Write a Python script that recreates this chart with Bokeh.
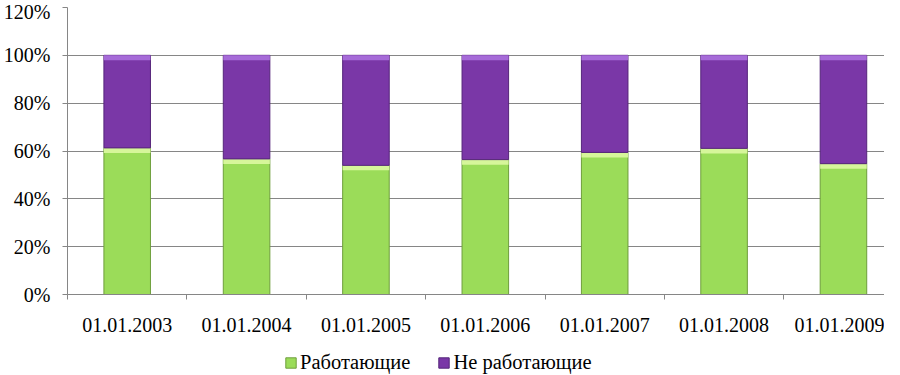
from bokeh.plotting import figure
from bokeh.layouts import column
from bokeh.models import Range1d, FixedTicker, Legend, LegendItem, ColumnDataSource
from bokeh.embed import file_html
from bokeh.resources import INLINE

categories = ["01.01.2003", "01.01.2004", "01.01.2005", "01.01.2006",
              "01.01.2007", "01.01.2008", "01.01.2009"]
working = [61.3, 56.7, 54.0, 56.4, 59.4, 61.1, 54.7]
not_working = [38.7, 43.3, 46.0, 43.6, 40.6, 38.9, 45.3]
series_names = ["Работающие", "Не работающие"]
y_ticks = [0, 20, 40, 60, 80, 100, 120]
y_tick_labels = ["0%", "20%", "40%", "60%", "80%", "100%", "120%"]

GREEN = "#9BDC59"
GREEN_HI = "#D6F69A"
GREEN_EDGE = "#6E9E3C"
PURPLE = "#7A37A7"
PURPLE_HI = "#A66BD8"
PURPLE_EDGE = "#55257A"
GRID = "#868686"
FONT = "'Liberation Serif', 'Times New Roman', serif"

n = len(categories)
xs = [i + 0.5 for i in range(n)]
tops1 = working
tops2 = [w + nw for w, nw in zip(working, not_working)]
BEVEL = 2.1
BAR_W = 0.39

src = ColumnDataSource(dict(
    x=xs, w=working, nw=not_working, t1=tops1, t2=tops2,
    hi1=[t - BEVEL for t in tops1], hi2=[t - BEVEL for t in tops2],
))

W, H1, H2 = 884, 340, 34
p = figure(width=W, height=H1, output_backend="svg", toolbar_location=None,
           x_range=Range1d(0, 824 / 120.4), y_range=Range1d(0, 120),
           min_border_left=60, min_border_right=0, min_border_top=7,
           min_border_bottom=46)
p.outline_line_color = None
p.background_fill_color = "white"
p.border_fill_color = "white"

r1 = p.vbar(x="x", bottom=0, top="t1", width=BAR_W, source=src,
            fill_color=GREEN, line_color=GREEN_EDGE, line_width=1)
p.vbar(x="x", bottom="hi1", top="t1", width=BAR_W, source=src,
       fill_color=GREEN_HI, line_color=None)
r2 = p.vbar(x="x", bottom="t1", top="t2", width=BAR_W, source=src,
            fill_color=PURPLE, line_color=PURPLE_EDGE, line_width=1)
p.vbar(x="x", bottom="hi2", top="t2", width=BAR_W, source=src,
       fill_color=PURPLE_HI, line_color=None)

# axes
xa = p.xaxis[0]
xa.ticker = FixedTicker(ticks=xs, minor_ticks=list(range(n + 1)))
xa.major_label_overrides = {x: c for x, c in zip(xs, categories)}
xa.major_tick_out = 0
xa.major_tick_in = 0
xa.minor_tick_out = 5
xa.minor_tick_in = 0
xa.minor_tick_line_color = GRID
xa.axis_line_color = GRID
xa.major_label_text_font = FONT
xa.major_label_text_font_size = "20px"
xa.major_label_text_color = "black"
xa.major_label_standoff = 18

ya = p.yaxis[0]
ya.ticker = FixedTicker(ticks=y_ticks)
ya.major_label_overrides = {t: l for t, l in zip(y_ticks, y_tick_labels)}
ya.major_tick_out = 5
ya.major_tick_in = 0
ya.major_tick_line_color = GRID
ya.minor_tick_line_color = None
ya.axis_line_color = GRID
ya.major_label_text_font = FONT
ya.major_label_text_font_size = "20px"
ya.major_label_text_color = "black"
ya.major_label_standoff = 12

p.xgrid.grid_line_color = None
p.ygrid.grid_line_color = GRID
p.ygrid.grid_line_width = 1

# legend strip below the chart
q = figure(width=W, height=H2, output_backend="svg", toolbar_location=None,
           x_range=Range1d(0, 1), y_range=Range1d(0, 1),
           x_axis_type=None, y_axis_type=None,
           min_border_left=0, min_border_right=0, min_border_top=0,
           min_border_bottom=0)
q.outline_line_color = None
q.xgrid.visible = False
q.ygrid.visible = False
l1 = q.vbar(x=[-5], top=[-5], width=0.1, fill_color=GREEN, line_color=GREEN_EDGE)
l2 = q.vbar(x=[-5], top=[-5], width=0.1, fill_color=PURPLE, line_color=PURPLE_EDGE)
legend = Legend(items=[LegendItem(label=series_names[0], renderers=[l1]),
                       LegendItem(label=series_names[1], renderers=[l2])],
                location=(217, 0), orientation="horizontal",
                glyph_width=13, glyph_height=13, label_standoff=3, spacing=27,
                padding=0, margin=0, border_line_color=None,
                background_fill_alpha=0,
                label_text_font=FONT, label_text_font_size="20.5px",
                label_text_color="black")
q.add_layout(legend, "center")

layout = column(p, q, spacing=0)
open("out.html", "w").write(file_html(layout, INLINE))
